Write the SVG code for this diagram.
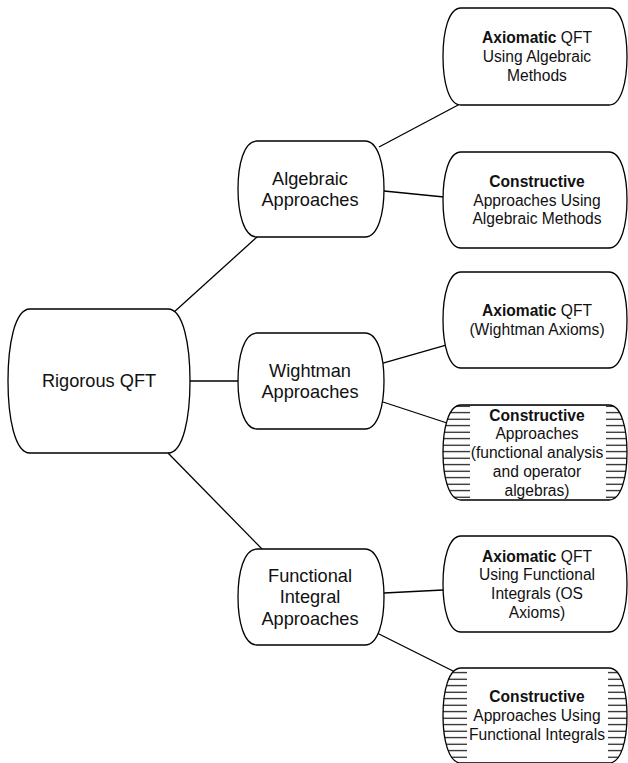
<svg xmlns="http://www.w3.org/2000/svg" width="628" height="763" viewBox="0 0 628 763">
<style>
.n{fill:#fff;stroke:#000;stroke-width:1.3}
.h{fill:url(#hatch);stroke:#000;stroke-width:1.3}
.e{stroke:#000;stroke-width:1.3;fill:none}
.t{font-family:"Liberation Sans",Arial,sans-serif;fill:#111;text-anchor:middle}
.big{font-size:18.2px}
.sm{font-size:15.6px}
.b{font-weight:bold}
</style>
<defs>
<pattern id="hatch" patternUnits="userSpaceOnUse" width="12" height="6.5">
<rect width="12" height="6.5" fill="#fff"/>
<line x1="0" y1="3.2" x2="12" y2="3.2" stroke="#000" stroke-width="1.1"/>
</pattern>
</defs>
<rect width="628" height="763" fill="#fff"/>
<g id="connectors">
<line class="e" x1="173" y1="313" x2="257" y2="237"/>
<line class="e" x1="190" y1="381" x2="238" y2="381"/>
<line class="e" x1="168" y1="453" x2="262" y2="549"/>
<line class="e" x1="379" y1="147" x2="460" y2="104"/>
<line class="e" x1="384" y1="191" x2="444" y2="197"/>
<line class="e" x1="383" y1="363" x2="446" y2="345"/>
<line class="e" x1="383" y1="402" x2="447" y2="423"/>
<line class="e" x1="384" y1="593" x2="443" y2="590"/>
<line class="e" x1="377" y1="633" x2="457" y2="673"/>
</g>
<g id="root">
<path class="n" d="M30,309 H168 C183.4,309 190,345 190,381 C190,417 183.4,453 168,453 H30 C14.6,453 8,417 8,381 C8,345 14.6,309 30,309Z"/>
<text class="t big" x="99" y="387.4">Rigorous QFT</text>
</g>
<g id="algebraic">
<path class="n" d="M257,141 H365 C378.3,141 384,165 384,189 C384,213 378.3,237 365,237 H257 C243.7,237 238,213 238,189 C238,165 243.7,141 257,141Z"/>
<text class="t big" x="310" y="184.5">Algebraic</text>
<text class="t big" x="310" y="206.3">Approaches</text>
</g>
<g id="wightman">
<path class="n" d="M257,333 H365 C378.3,333 384,357 384,381 C384,405 378.3,429 365,429 H257 C243.7,429 238,405 238,381 C238,357 243.7,333 257,333Z"/>
<text class="t big" x="310" y="376.5">Wightman</text>
<text class="t big" x="310" y="398.3">Approaches</text>
</g>
<g id="functional">
<path class="n" d="M257,549 H365 C378.3,549 384,573 384,597 C384,621 378.3,645 365,645 H257 C243.7,645 238,621 238,597 C238,573 243.7,549 257,549Z"/>
<text class="t big" x="310" y="581.6">Functional</text>
<text class="t big" x="310" y="603.4">Integral</text>
<text class="t big" x="310" y="625.2">Approaches</text>
</g>
<g id="axiomatic-algebraic">
<path class="n" d="M461,8 H609 C621.6,8 627,32.25 627,56.5 C627,80.75 621.6,105 609,105 H461 C448.4,105 443,80.75 443,56.5 C443,32.25 448.4,8 461,8Z"/>
<text class="t sm" x="537" y="43.3"><tspan class="b">Axiomatic</tspan> QFT</text>
<text class="t sm" x="537" y="62">Using Algebraic</text>
<text class="t sm" x="537" y="80.7">Methods</text>
</g>
<g id="constructive-algebraic">
<path class="n" d="M461,152 H609 C621.6,152 627,176 627,200 C627,224 621.6,248 609,248 H461 C448.4,248 443,224 443,200 C443,176 448.4,152 461,152Z"/>
<text class="t sm b" x="537" y="186.9">Constructive</text>
<text class="t sm" x="537" y="205.6">Approaches Using</text>
<text class="t sm" x="537" y="224.3">Algebraic Methods</text>
</g>
<g id="axiomatic-wightman">
<path class="n" d="M461,272 H609 C621.6,272 627,296 627,320 C627,344 621.6,368 609,368 H461 C448.4,368 443,344 443,320 C443,296 448.4,272 461,272Z"/>
<text class="t sm" x="537" y="316.2"><tspan class="b">Axiomatic</tspan> QFT</text>
<text class="t sm" x="537" y="334.9">(Wightman Axioms)</text>
</g>
<g id="constructive-wightman">
<path class="h" d="M461,405 H609 C621.6,405 627,428.75 627,452.5 C627,476.25 621.6,500 609,500 H461 C448.4,500 443,476.25 443,452.5 C443,428.75 448.4,405 461,405Z"/>
<rect x="470" y="406" width="136" height="93" fill="#fff"/>
<text class="t sm b" x="537" y="420.7">Constructive</text>
<text class="t sm" x="537" y="439.4">Approaches</text>
<text class="t sm" x="537" y="458.1">(functional analysis</text>
<text class="t sm" x="537" y="476.9">and operator</text>
<text class="t sm" x="537" y="495.6">algebras)</text>
</g>
<g id="axiomatic-functional">
<path class="n" d="M461,536 H609 C621.6,536 627,560 627,584 C627,608 621.6,632 609,632 H461 C448.4,632 443,608 443,584 C443,560 448.4,536 461,536Z"/>
<text class="t sm" x="537" y="561.5"><tspan class="b">Axiomatic</tspan> QFT</text>
<text class="t sm" x="537" y="580.2">Using Functional</text>
<text class="t sm" x="537" y="598.9">Integrals (OS</text>
<text class="t sm" x="537" y="617.7">Axioms)</text>
</g>
<g id="constructive-functional">
<path class="h" d="M461,668 H609 C621.6,668 627,691.75 627,715.5 C627,739.25 621.6,763 609,763 H461 C448.4,763 443,739.25 443,715.5 C443,691.75 448.4,668 461,668Z"/>
<rect x="467" y="669" width="141" height="93" fill="#fff"/>
<text class="t sm b" x="537" y="702.4">Constructive</text>
<text class="t sm" x="537" y="721.1">Approaches Using</text>
<text class="t sm" x="537" y="739.8">Functional Integrals</text>
</g>
</svg>
